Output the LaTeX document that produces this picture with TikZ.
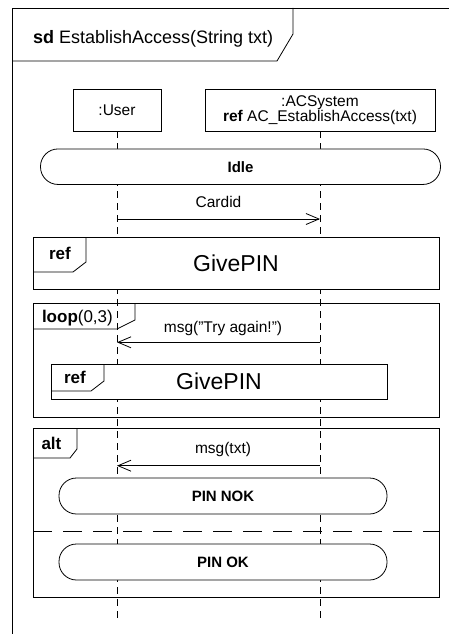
\documentclass[tikz,border=0pt]{standalone}
\usepackage{fontspec}
\setmainfont{Liberation Sans}
\usetikzlibrary{arrows.meta}

\newcommand{\fsz}[1]{\fontsize{#1}{#1}\selectfont}
\newcommand{\dq}{\symbol{34}}

\begin{document}
\begin{tikzpicture}[x=1pt,y=-1pt,
  every node/.style={inner sep=0pt,outer sep=0pt},
  ln/.style={line width=0.8pt},
  headbox/.style={draw,ln,fill=white,font=\fsz{15.5},align=center,
    minimum height=42pt},
  lifeline/.style={ln,dash pattern=on 7pt off 5pt},
  statebox/.style={draw,ln,fill=white,rounded corners=17.5pt,
    font=\fsz{15}\bfseries,minimum height=35.5pt},
  refbox/.style={draw,ln,fill=white,font=\fsz{23}},
  fragbox/.style={draw,ln},
  tabtext/.style={font=\fsz{17},anchor=base west},
  msg/.style={ln,-{Straight Barb[length=13pt,width=11pt,line width=0.8pt]}},
  msglabel/.style={font=\fsz{15.5},anchor=base},
  separator/.style={ln,dash pattern=on 19pt off 11pt}
]
\useasboundingbox (0,0) rectangle (449,634);

% diagram frame and title tab
\draw[ln] (12,634) -- (12,8) -- (449,8);
\draw[ln] (12,61) -- (277,61) -- (293,34) -- (293,8);
\node[font=\fsz{18},anchor=base west] (title) at (33,44)
  {\textbf{sd} EstablishAccess(String txt)};

% lifeline heads
\node[headbox,minimum width=88pt] (user) at (117,110) {:User};
\node[headbox,minimum width=230pt] (acs) at (320,110)
  {\baselineskip=14pt :ACSystem\\\textbf{ref} AC\_EstablishAccess(txt)};

% lifelines
\coordinate (userEnd) at (117,619);
\coordinate (acsEnd) at (320,619);
\draw[lifeline] (user.south) -- (userEnd);
\draw[lifeline] (acs.south) -- (acsEnd);

% state Idle
\node[statebox,minimum width=400pt] (idle) at (240.5,166.7) {Idle};

% message Cardid
\coordinate (u1) at (117,219);
\coordinate (a1) at (320,219);
\draw[msg] (u1) -- (a1);
\node[msglabel] (cardid) at (218.5,207) {Cardid};

% ref GivePIN
\node[refbox,minimum width=406pt,minimum height=52pt] (ref1) at (236,263) {GivePIN};
\draw[ln] (33,272) -- (73,272) -- (86,262) -- (86,237);
\node[tabtext,font=\fsz{17}\bfseries] (ref1tag) at (49,259) {ref};

% loop fragment
\node[fragbox,minimum width=406pt,minimum height=114pt] (loop) at (236,360) {};
\draw[ln] (33,329) -- (117,329) -- (135,320) -- (135,303);
\node[tabtext] (looptag) at (42,322) {\textbf{loop}(0,3)};

\coordinate (a2) at (320,342.3);
\coordinate (u2) at (117,342.3);
\draw[msg] (a2) -- (u2);
\node[msglabel] (try) at (223,332.5) {msg(\dq Try again!\dq)};

\node[refbox,minimum width=336pt,minimum height=35pt] (ref2) at (219,381.5) {GivePIN};
\draw[ln] (51,391) -- (91,391) -- (104,381) -- (104,364);
\node[tabtext,font=\fsz{17}\bfseries] (ref2tag) at (64,383) {ref};

% alt fragment
\node[fragbox,minimum width=406pt,minimum height=169pt] (alt) at (236,512.5) {};
\draw[ln] (33,458) -- (70,458) -- (77,449) -- (77,428);
\node[tabtext,font=\fsz{17}\bfseries] (alttag) at (41.5,449) {alt};

\coordinate (a3) at (320,465.7);
\coordinate (u3) at (117,465.7);
\draw[msg] (a3) -- (u3);
\node[msglabel] (msgtxt) at (223,453.5) {msg(txt)};

\node[statebox,minimum width=328pt,minimum height=36pt] (nok) at (223,496) {PIN NOK};
\coordinate (sepL) at (33,531);
\coordinate (sepR) at (439,531);
\draw[separator] (sepL) -- (sepR);
\node[statebox,minimum width=328pt,minimum height=36pt] (ok) at (223,562) {PIN OK};
\end{tikzpicture}
\end{document}
